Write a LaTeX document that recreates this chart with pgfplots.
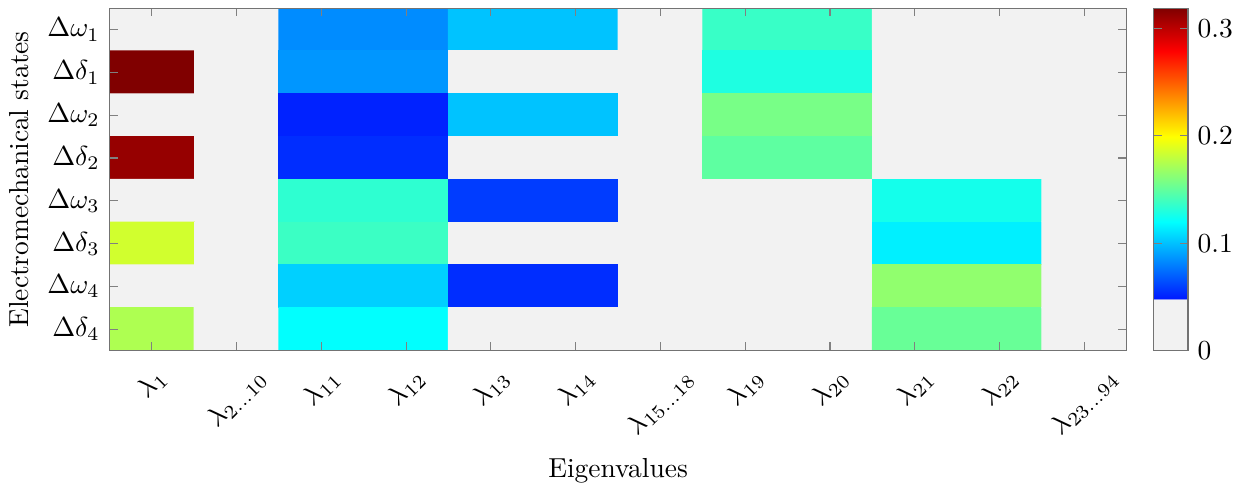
\documentclass[border=0pt]{standalone}
\usepackage{graphicx}
\usepackage{pgfplots}
\pgfplotsset{compat=1.18}
\begin{document}
\begin{tikzpicture}
\begin{axis}[
  name=main,
  axis on top,
  scale only axis,
  width=370pt, height=124.5pt,
  xmin=-0.5, xmax=11.5, ymin=-0.5, ymax=7.5,
  y dir=reverse,
  axis line style={black!55},
  every tick/.style={black!50},
  tick align=inside,
  major tick length=3pt,
  xtick={0,...,11},
  xticklabels={\rotatebox{45}{$\lambda_{1}$},\rotatebox{45}{$\lambda_{2\ldots10}$},\rotatebox{45}{$\lambda_{11}$},\rotatebox{45}{$\lambda_{12}$},\rotatebox{45}{$\lambda_{13}$},\rotatebox{45}{$\lambda_{14}$},\rotatebox{45}{$\lambda_{15\ldots18}$},\rotatebox{45}{$\lambda_{19}$},\rotatebox{45}{$\lambda_{20}$},\rotatebox{45}{$\lambda_{21}$},\rotatebox{45}{$\lambda_{22}$},\rotatebox{45}{$\lambda_{23\ldots94}$}},
  xticklabel style={anchor=north, yshift=-2pt},
  ytick={0,...,7},
  yticklabels={$\Delta\omega_1$,$\Delta\delta_1$,$\Delta\omega_2$,$\Delta\delta_2$,$\Delta\omega_3$,$\Delta\delta_3$,$\Delta\omega_4$,$\Delta\delta_4$},
  xlabel={Eigenvalues},
  ylabel={Electromechanical states},
  colormap={grayjet}{rgb255(0pt)=(242,242,242); rgb255(150pt)=(242,242,242); rgb255(151pt)=(0,26,255); rgb255(375pt)=(0,255,255); rgb255(625pt)=(255,255,0); rgb255(875pt)=(255,0,0); rgb255(1000pt)=(128,0,0)},
  colorbar,
  point meta min=0, point meta max=0.319,
  colorbar style={
    width=12.5pt,
    ytick={0,0.1,0.2,0.3},
    yticklabel style={/pgf/number format/fixed},
    axis line style={black!55},
    every tick/.style={black!50},
    tick align=inside,
    major tick length=3pt,
  },
]
\addplot[matrix plot*, mesh/cols=12, point meta=explicit] table[meta=c] {
x y c
0 0 0
1 0 0
2 0 0.0837
3 0 0.0837
4 0 0.101
5 0 0.101
6 0 0
7 0 0.137
8 0 0.137
9 0 0
10 0 0
11 0 0

0 1 0.319
1 1 0
2 1 0.0868
3 1 0.0868
4 1 0
5 1 0
6 1 0
7 1 0.129
8 1 0.129
9 1 0
10 1 0
11 1 0

0 2 0
1 2 0
2 2 0.0508
3 2 0.0508
4 2 0.101
5 2 0.101
6 2 0
7 2 0.157
8 2 0.157
9 2 0
10 2 0
11 2 0

0 3 0.312
1 3 0
2 3 0.054
3 3 0.054
4 3 0
5 3 0
6 3 0
7 3 0.149
8 3 0.149
9 3 0
10 3 0
11 3 0

0 4 0
1 4 0
2 4 0.134
3 4 0.134
4 4 0.0587
5 4 0.0587
6 4 0
7 4 0
8 4 0
9 4 0.126
10 4 0.126
11 4 0

0 5 0.185
1 5 0
2 5 0.138
3 5 0.138
4 5 0
5 5 0
6 5 0
7 5 0
8 5 0
9 5 0.115
10 5 0.115
11 5 0

0 6 0
1 6 0
2 6 0.105
3 6 0.105
4 6 0.054
5 6 0.054
6 6 0
7 6 0
8 6 0
9 6 0.165
10 6 0.165
11 6 0

0 7 0.174
1 7 0
2 7 0.120
3 7 0.120
4 7 0
5 7 0
6 7 0
7 7 0
8 7 0
9 7 0.152
10 7 0.152
11 7 0
};
\end{axis}
\path (main.north) ++(0,3pt);
\end{tikzpicture}
\end{document}
